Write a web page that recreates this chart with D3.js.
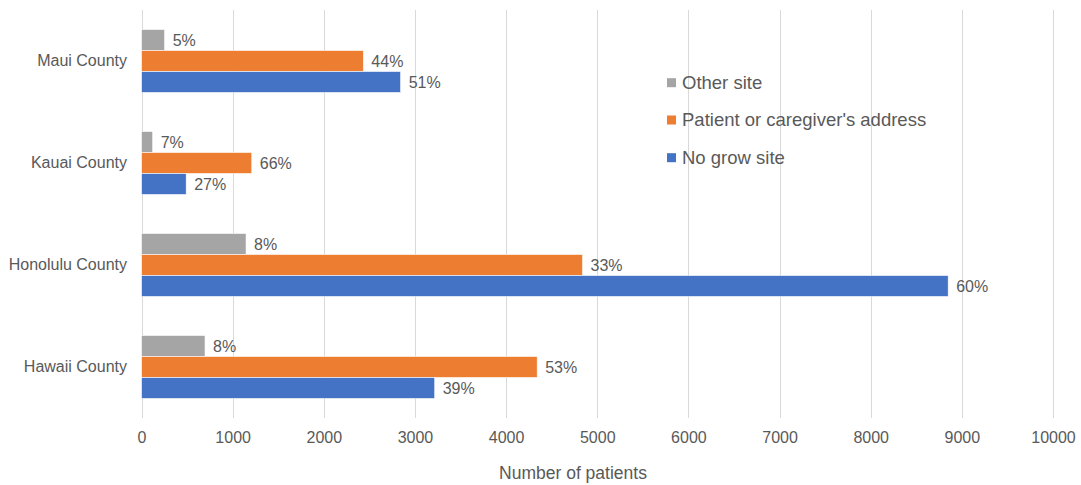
<!DOCTYPE html>
<html><head><meta charset="utf-8">
<script src="https://cdn.jsdelivr.net/npm/d3@7"></script>
<style>body{margin:0;background:#fff}svg{display:block}text{font-family:"Liberation Sans",Arial,sans-serif;fill:#595959}</style>
</head><body>
<script>
const categories = ["Maui County", "Kauai County", "Honolulu County", "Hawaii County"];
const seriesNames = ["Other site", "Patient or caregiver's address", "No grow site"];
const otherSite = [254, 123, 1147, 697];
const patientAddress = [2434, 1210, 4839, 4341];
const noGrowSite = [2843, 490, 8850, 3217];
const otherSiteLabels = ["5%", "7%", "8%", "8%"];
const patientAddressLabels = ["44%", "66%", "33%", "53%"];
const noGrowSiteLabels = ["51%", "27%", "60%", "39%"];
const xTicks = [0, 1000, 2000, 3000, 4000, 5000, 6000, 7000, 8000, 9000, 10000];
const colors = ["#A5A5A5", "#ED7D31", "#4472C4"];

const W = 1081, H = 485;
const svg = d3.select("body").append("svg").attr("width", W).attr("height", H);
const x = d3.scaleLinear().domain([0, 10000]).range([141.5, 1053]);
const y = d3.scaleBand().domain(categories).range([10, 418]).paddingInner(0.382).paddingOuter(0.191);
const ySub = d3.scaleBand().domain(seriesNames).range([0, y.bandwidth()]);

// gridlines
svg.append("g").selectAll("line").data(xTicks).join("line")
  .attr("x1", d => Math.round(x(d)) + 0.5).attr("x2", d => Math.round(x(d)) + 0.5)
  .attr("y1", 10).attr("y2", 418).attr("stroke", "#d9d9d9").attr("stroke-width", 1);

// axis tick labels
const xAxis = d3.axisBottom(x).tickValues(xTicks).tickSize(0).tickPadding(0).tickFormat(d3.format("d"));
const gx = svg.append("g").attr("transform", "translate(0,418)").call(xAxis);
gx.select(".domain").remove();
gx.selectAll("text").attr("y", 19).attr("dy", "0.35em").style("font-size", "16px").style("font-family", '"Liberation Sans",Arial,sans-serif').attr("fill", "#595959");

const yAxis = d3.axisLeft(y).tickSize(0).tickPadding(0);
const gy = svg.append("g").attr("transform", "translate(127,0)").call(yAxis);
gy.select(".domain").remove();
gy.selectAll("text").style("font-size", "16px").style("font-family", '"Liberation Sans",Arial,sans-serif').attr("fill", "#595959");

const series = [
  {name: seriesNames[0], values: otherSite, labels: otherSiteLabels, color: colors[0]},
  {name: seriesNames[1], values: patientAddress, labels: patientAddressLabels, color: colors[1]},
  {name: seriesNames[2], values: noGrowSite, labels: noGrowSiteLabels, color: colors[2]}
];

series.forEach(s => {
  const g = svg.append("g");
  const rows = categories.map((c, i) => ({c, v: s.values[i], l: s.labels[i]}));
  g.selectAll("rect").data(rows).join("rect")
    .attr("x", x(0)).attr("y", d => y(d.c) + ySub(s.name))
    .attr("width", d => x(d.v) - x(0)).attr("height", ySub.bandwidth())
    .attr("fill", s.color).attr("stroke", "#fff").attr("stroke-width", 0.6);
  g.selectAll("text").data(rows).join("text")
    .attr("x", d => x(d.v) + 8).attr("y", d => y(d.c) + ySub(s.name) + ySub.bandwidth() / 2)
    .attr("dy", "0.35em").style("font-size", "16px").text(d => d.l);
});

// axis title
svg.append("text").attr("x", 573).attr("y", 473).attr("dy", "0.35em").attr("text-anchor", "middle")
  .style("font-size", "17.5px").text("Number of patients");

// legend
const legY = [82.7, 120, 157.7];
const leg = svg.append("g");
seriesNames.forEach((n, i) => {
  leg.append("rect").attr("x", 667).attr("y", legY[i] - 4.5).attr("width", 9).attr("height", 9).attr("fill", colors[i]);
  leg.append("text").attr("x", 682).attr("y", legY[i]).attr("dy", "0.35em").style("font-size", "18.5px").text(n);
});
</script>
</body></html>
